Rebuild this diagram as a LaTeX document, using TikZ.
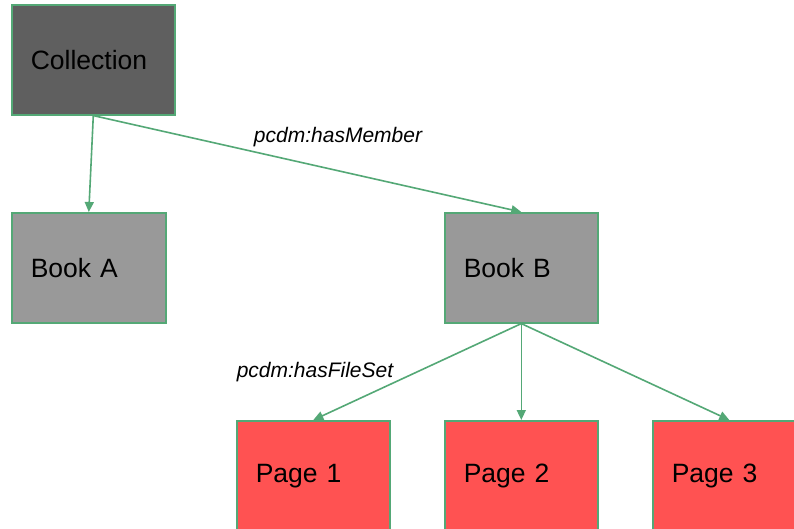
\documentclass[tikz,border=0pt]{standalone}
\usepackage{fontspec}
\setmainfont{Liberation Sans}
\usetikzlibrary{arrows.meta}
\definecolor{edgegreen}{RGB}{84,168,118}
\definecolor{darkgray}{RGB}{95,95,95}
\definecolor{midgray}{RGB}{153,153,153}
\definecolor{pagered}{RGB}{255,82,82}
\tikzset{
  box/.style={draw=edgegreen, line width=1.6pt, anchor=north west, inner xsep=19pt, inner ysep=0pt,
    align=left, minimum height=110pt, font=\fontsize{26.5}{31}\selectfont},
  conn/.style={draw=edgegreen, line width=1.6pt, -{Triangle[length=10pt,width=9pt]}},
  rel/.style={font=\itshape\fontsize{21}{25}\selectfont, inner sep=0pt}
}
\begin{document}
\begin{tikzpicture}[x=1pt,y=-1pt]
\clip (0,0) rectangle (794,529);
\fill[white] (0,0) rectangle (794,529);
\node[box, fill=darkgray, text width=125pt] (coll) at (11,4) {Collection};
\node[box, fill=midgray, text width=116pt] (booka) at (11,212) {Book A};
\node[box, fill=midgray, text width=115pt] (bookb) at (444,212) {Book B};
\node[box, fill=pagered, text width=115pt, minimum height=111pt] (page1) at (236,420) {Page 1};
\node[box, fill=pagered, text width=115pt, minimum height=111pt] (page2) at (444,420) {Page 2};
\node[box, fill=pagered, text width=115pt, minimum height=111pt] (page3) at (652,420) {Page 3};
\draw[conn] (coll.south) -- (booka.north);
\draw[conn] (coll.south) -- (bookb.north);
\draw[conn] (bookb.south) -- (page1.north);
\draw[conn] (bookb.south) -- (page2.north);
\draw[conn] (bookb.south) -- (page3.north);
\node[rel] (hasmember) at (338,137) {pcdm:hasMember};
\node[rel] (hasfileset) at (315,372) {pcdm:hasFileSet};
\end{tikzpicture}
\end{document}
